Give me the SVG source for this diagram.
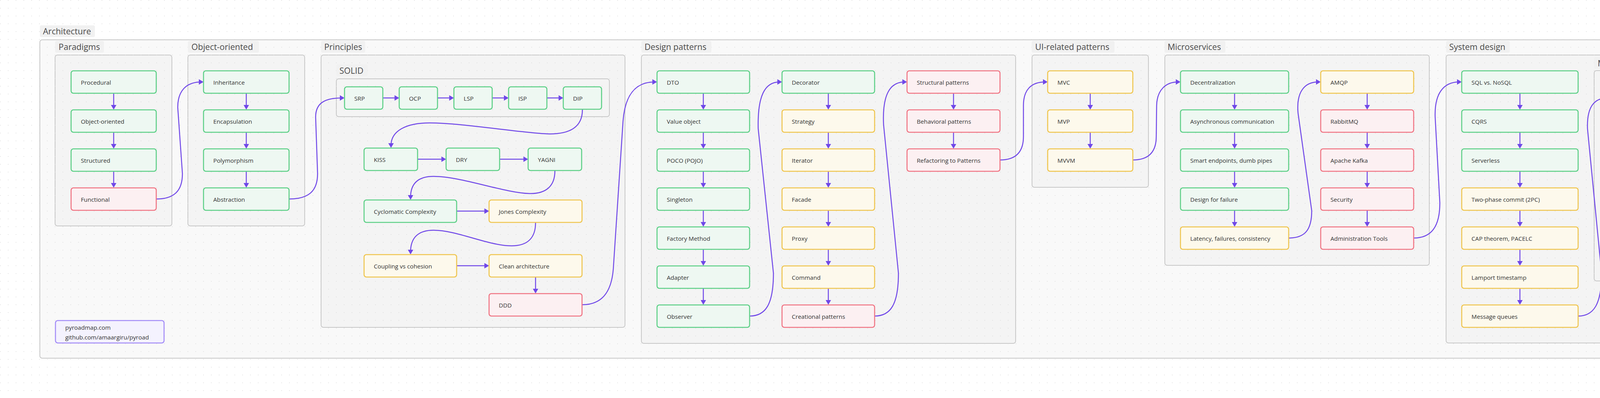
<svg xmlns="http://www.w3.org/2000/svg" width="4900" height="1020" viewBox="0 0 4900 1020">
<defs>
<pattern id="dots" width="20" height="20" patternUnits="userSpaceOnUse">
<circle cx="1" cy="1" r="0.9" fill="#dadada"/>
</pattern>
<marker id="ah" markerUnits="userSpaceOnUse" markerWidth="12" markerHeight="14" viewBox="0 0 12 14" refX="6" refY="7" orient="auto">
<path d="M0,0 L12,7 L0,14 z" fill="#7048e8"/>
</marker>
<style>
.box{fill:#f4f4f4;stroke:#c8c8c8;stroke-width:2}
.outer{fill:#f9f9f9;stroke:#c8c8c8;stroke-width:2}
.lbg{fill:#f1f1f1}
.title{font-family:"Open Sans","Noto Sans","DejaVu Sans",sans-serif;font-size:21.5px;fill:#4a4a4a}
.n rect{stroke-width:2.6}
.n text{font-family:"Open Sans","Noto Sans","DejaVu Sans",sans-serif;font-size:15.2px;fill:#333}
.g rect{fill:#eef8f2;stroke:#5ccf86}
.y rect{fill:#fdf9ec;stroke:#efc54f}
.r rect{fill:#fcf0f2;stroke:#f07483}
.p rect{fill:#f4f2fe;stroke:#a38cf7}
#connectors path{fill:none;stroke:#7048e8;stroke-width:2.5;marker-end:url(#ah)}
</style>
</defs>
<rect width="4900" height="1020" fill="#ffffff"/>
<g id="groups">
<rect class="outer" x="102" y="102" width="4698" height="816" rx="6"/>
<rect class="box" x="141" y="141" width="299" height="438" rx="6"/>
<rect class="box" x="481" y="141" width="299" height="438" rx="6"/>
<rect class="box" x="822" y="141" width="778" height="698" rx="6"/>
<rect class="box" x="861" y="202" width="699" height="97" rx="6"/>
<rect class="box" x="1642" y="141" width="958" height="739" rx="6"/>
<rect class="box" x="2642" y="141" width="298" height="339" rx="6"/>
<rect class="box" x="2982" y="141" width="677" height="539" rx="6"/>
<rect class="box" x="3702" y="141" width="1058" height="738" rx="6"/>
<rect class="box" x="4081" y="181" width="299" height="539" rx="6"/>
</g>
<rect width="4900" height="1020" fill="url(#dots)"/>
<g id="labels">
<rect class="lbg" x="102" y="65" width="141" height="30" rx="4"/><text class="title" x="110" y="88">Architecture</text>
<rect class="lbg" x="141" y="105" width="125" height="30" rx="4"/><text class="title" x="150" y="128">Paradigms</text>
<rect class="lbg" x="481" y="105" width="182" height="30" rx="4"/><text class="title" x="490" y="128">Object-oriented</text>
<rect class="lbg" x="822" y="105" width="113" height="30" rx="4"/><text class="title" x="830" y="128">Principles</text>
<rect class="lbg" x="861" y="165" width="80" height="30" rx="4"/><text class="title" x="869" y="189">SOLID</text>
<rect class="lbg" x="1642" y="105" width="179" height="30" rx="4"/><text class="title" x="1650" y="128">Design patterns</text>
<rect class="lbg" x="2641" y="105" width="212" height="30" rx="4"/><text class="title" x="2650" y="128">UI-related patterns</text>
<rect class="lbg" x="2981" y="105" width="156" height="30" rx="4"/><text class="title" x="2989" y="128">Microservices</text>
<rect class="lbg" x="3702" y="105" width="163" height="30" rx="4"/><text class="title" x="3710" y="128">System design</text>
<rect class="lbg" x="4081" y="146" width="229" height="30" rx="4"/><text class="title" x="4090" y="170">Mitigation strategies</text>
</g>
<g id="connectors">
<path d="M291,240 L291,275"/><path d="M291,340 L291,375"/><path d="M291,440 L291,475"/>
<path d="M630.5,240 L630.5,275"/><path d="M630.5,340 L630.5,375"/><path d="M630.5,440 L630.5,475"/>
<path d="M980,251 L1016,251"/><path d="M1120,251 L1156,251"/><path d="M1260,251 L1296,251"/><path d="M1400,251 L1436,251"/>
<path d="M1069,408 L1136,408"/><path d="M1279,408 L1346,408"/>
<path d="M1169,541 L1246,541"/><path d="M1169,681 L1246,681"/>
<path d="M1371,711 L1371,746"/>
<path d="M1800.5,240 L1800.5,275"/><path d="M1800.5,340 L1800.5,375"/><path d="M1800.5,440 L1800.5,475"/><path d="M1800.5,540 L1800.5,575"/><path d="M1800.5,640 L1800.5,675"/><path d="M1800.5,740 L1800.5,775"/>
<path d="M2120.5,240 L2120.5,275"/><path d="M2120.5,340 L2120.5,375"/><path d="M2120.5,440 L2120.5,475"/><path d="M2120.5,540 L2120.5,575"/><path d="M2120.5,640 L2120.5,675"/><path d="M2120.5,740 L2120.5,775"/>
<path d="M2441,240 L2441,275"/><path d="M2441,340 L2441,375"/>
<path d="M2791,240 L2791,275"/><path d="M2791,340 L2791,375"/>
<path d="M3160.5,240 L3160.5,275"/><path d="M3160.5,340 L3160.5,375"/><path d="M3160.5,440 L3160.5,475"/><path d="M3160.5,540 L3160.5,575"/>
<path d="M3500,240 L3500,275"/><path d="M3500,340 L3500,375"/><path d="M3500,440 L3500,475"/><path d="M3500,540 L3500,575"/>
<path d="M3891,240 L3891,275"/><path d="M3891,340 L3891,375"/><path d="M3891,440 L3891,475"/><path d="M3891,540 L3891,575"/><path d="M3891,640 L3891,675"/><path d="M3891,740 L3891,775"/>
<path d="M4230.5,280 L4230.5,315"/><path d="M4230.5,380 L4230.5,415"/><path d="M4230.5,480 L4230.5,515"/><path d="M4230.5,580 L4230.5,615"/>
<path d="M4571,240 L4571,275"/><path d="M4571,340 L4571,375"/><path d="M4571,440 L4571,475"/><path d="M4571,540 L4571,575"/><path d="M4571,640 L4571,675"/>
<path d="M400,510 C445,510 467,490 467,445 L455,275 C455,235 475,210 515,210"/>
<path d="M740,510 C790,510 813,490 813,445 L808,300 C808,265 830,251 876,251"/>
<path d="M1490,781 C1540,781 1565,750 1570,690 L1595,310 C1600,245 1625,210 1676,210"/>
<path d="M1919,810 C1960,810 1980,780 1980,700 L1941,330 C1939,245 1958,210 1996,210"/>
<path d="M2239,810 C2280,810 2300,780 2300,700 L2262,320 C2258,240 2280,210 2316,210"/>
<path d="M2560,410 C2600,410 2620,390 2620,350 L2620,270 C2620,230 2640,210 2676,210"/>
<path d="M2900,410 C2940,410 2960,390 2960,350 L2961,270 C2962,230 2985,210 3016,210"/>
<path d="M3299,610 C3340,610 3358,590 3358,540 L3323,290 C3318,235 3340,210 3375,210"/>
<path d="M3619,610 C3665,610 3686,580 3686,520 L3674,300 C3672,240 3695,210 3736,210"/>
<path d="M4040,810 C4080,810 4100,780 4100,700 L4064,330 C4062,275 4080,251 4116,251"/>
<path d="M4339,650 C4380,650 4399,625 4399,560 L4363,300 C4360,240 4380,210 4416,210"/>
<path d="M1491,281 C1491,325 1460,345 1400,343 C1330,340 1180,315 1100,315 C1040,315 1001,335 1001,373"/>
<path d="M1420.5,438 C1420.5,475 1400,497 1355,496 C1290,494 1180,452 1110,452 C1070,452 1051,470 1051,506"/>
<path d="M1371,571 C1371,610 1350,630 1310,630 C1250,630 1170,590 1110,590 C1070,590 1051,610 1051,646"/>
</g>
<g id="n-procedural" class="n g"><rect x="182" y="181.5" width="218" height="57.5" rx="6"/><text x="207" y="217">Procedural</text></g>
<g id="n-object-oriented" class="n g"><rect x="182" y="281.5" width="218" height="57.5" rx="6"/><text x="207" y="317">Object-oriented</text></g>
<g id="n-structured" class="n g"><rect x="182" y="381.5" width="218" height="57.5" rx="6"/><text x="207" y="417">Structured</text></g>
<g id="n-functional" class="n r"><rect x="182" y="481.5" width="218" height="57.5" rx="6"/><text x="207" y="517">Functional</text></g>
<g id="n-inheritance" class="n g"><rect x="521" y="181.5" width="219" height="57.5" rx="6"/><text x="546" y="217">Inheritance</text></g>
<g id="n-encapsulation" class="n g"><rect x="521" y="281.5" width="219" height="57.5" rx="6"/><text x="546" y="317">Encapsulation</text></g>
<g id="n-polymorphism" class="n g"><rect x="521" y="381.5" width="219" height="57.5" rx="6"/><text x="546" y="417">Polymorphism</text></g>
<g id="n-abstraction" class="n g"><rect x="521" y="481.5" width="219" height="57.5" rx="6"/><text x="546" y="517">Abstraction</text></g>
<g id="n-srp" class="n g"><rect x="882" y="222.5" width="98" height="57.5" rx="6"/><text x="907" y="258">SRP</text></g>
<g id="n-ocp" class="n g"><rect x="1022" y="222.5" width="98" height="57.5" rx="6"/><text x="1047" y="258">OCP</text></g>
<g id="n-lsp" class="n g"><rect x="1162" y="222.5" width="98" height="57.5" rx="6"/><text x="1187" y="258">LSP</text></g>
<g id="n-isp" class="n g"><rect x="1302" y="222.5" width="98" height="57.5" rx="6"/><text x="1327" y="258">ISP</text></g>
<g id="n-dip" class="n g"><rect x="1442" y="222.5" width="98" height="57.5" rx="6"/><text x="1467" y="258">DIP</text></g>
<g id="n-kiss" class="n g"><rect x="932" y="379.5" width="137" height="57.5" rx="6"/><text x="957" y="415">KISS</text></g>
<g id="n-dry" class="n g"><rect x="1142" y="379.5" width="137" height="57.5" rx="6"/><text x="1167" y="415">DRY</text></g>
<g id="n-yagni" class="n g"><rect x="1352" y="379.5" width="137" height="57.5" rx="6"/><text x="1377" y="415">YAGNI</text></g>
<g id="n-cyclomatic" class="n g"><rect x="932" y="512.5" width="237" height="57.5" rx="6"/><text x="957" y="548">Cyclomatic Complexity</text></g>
<g id="n-jones" class="n y"><rect x="1252" y="512.5" width="238" height="57.5" rx="6"/><text x="1277" y="548">Jones Complexity</text></g>
<g id="n-coupling" class="n y"><rect x="932" y="652.5" width="237" height="57.5" rx="6"/><text x="957" y="688">Coupling vs cohesion</text></g>
<g id="n-clean" class="n y"><rect x="1252" y="652.5" width="238" height="57.5" rx="6"/><text x="1277" y="688">Clean architecture</text></g>
<g id="n-ddd" class="n r"><rect x="1252" y="752.5" width="238" height="57.5" rx="6"/><text x="1277" y="788">DDD</text></g>
<g id="n-dto" class="n g"><rect x="1682" y="181.5" width="237" height="57.5" rx="6"/><text x="1707" y="217">DTO</text></g>
<g id="n-value-object" class="n g"><rect x="1682" y="281.5" width="237" height="57.5" rx="6"/><text x="1707" y="317">Value object</text></g>
<g id="n-poco" class="n g"><rect x="1682" y="381.5" width="237" height="57.5" rx="6"/><text x="1707" y="417">POCO (POJO)</text></g>
<g id="n-singleton" class="n g"><rect x="1682" y="481.5" width="237" height="57.5" rx="6"/><text x="1707" y="517">Singleton</text></g>
<g id="n-factory" class="n g"><rect x="1682" y="581.5" width="237" height="57.5" rx="6"/><text x="1707" y="617">Factory Method</text></g>
<g id="n-adapter" class="n g"><rect x="1682" y="681.5" width="237" height="57.5" rx="6"/><text x="1707" y="717">Adapter</text></g>
<g id="n-observer" class="n g"><rect x="1682" y="781.5" width="237" height="57.5" rx="6"/><text x="1707" y="817">Observer</text></g>
<g id="n-decorator" class="n g"><rect x="2002" y="181.5" width="237" height="57.5" rx="6"/><text x="2027" y="217">Decorator</text></g>
<g id="n-strategy" class="n y"><rect x="2002" y="281.5" width="237" height="57.5" rx="6"/><text x="2027" y="317">Strategy</text></g>
<g id="n-iterator" class="n y"><rect x="2002" y="381.5" width="237" height="57.5" rx="6"/><text x="2027" y="417">Iterator</text></g>
<g id="n-facade" class="n y"><rect x="2002" y="481.5" width="237" height="57.5" rx="6"/><text x="2027" y="517">Facade</text></g>
<g id="n-proxy" class="n y"><rect x="2002" y="581.5" width="237" height="57.5" rx="6"/><text x="2027" y="617">Proxy</text></g>
<g id="n-command" class="n y"><rect x="2002" y="681.5" width="237" height="57.5" rx="6"/><text x="2027" y="717">Command</text></g>
<g id="n-creational" class="n r"><rect x="2002" y="781.5" width="237" height="57.5" rx="6"/><text x="2027" y="817">Creational patterns</text></g>
<g id="n-structural" class="n r"><rect x="2322" y="181.5" width="238" height="57.5" rx="6"/><text x="2347" y="217">Structural patterns</text></g>
<g id="n-behavioral" class="n r"><rect x="2322" y="281.5" width="238" height="57.5" rx="6"/><text x="2347" y="317">Behavioral patterns</text></g>
<g id="n-refactoring" class="n r"><rect x="2322" y="381.5" width="238" height="57.5" rx="6"/><text x="2347" y="417">Refactoring to Patterns</text></g>
<g id="n-mvc" class="n y"><rect x="2682" y="181.5" width="218" height="57.5" rx="6"/><text x="2707" y="217">MVC</text></g>
<g id="n-mvp" class="n y"><rect x="2682" y="281.5" width="218" height="57.5" rx="6"/><text x="2707" y="317">MVP</text></g>
<g id="n-mvvm" class="n y"><rect x="2682" y="381.5" width="218" height="57.5" rx="6"/><text x="2707" y="417">MVVM</text></g>
<g id="n-decentralization" class="n g"><rect x="3022" y="181.5" width="277" height="57.5" rx="6"/><text x="3047" y="217">Decentralization</text></g>
<g id="n-async" class="n g"><rect x="3022" y="281.5" width="277" height="57.5" rx="6"/><text x="3047" y="317">Asynchronous communication</text></g>
<g id="n-smart" class="n g"><rect x="3022" y="381.5" width="277" height="57.5" rx="6"/><text x="3047" y="417">Smart endpoints, dumb pipes</text></g>
<g id="n-design-failure" class="n g"><rect x="3022" y="481.5" width="277" height="57.5" rx="6"/><text x="3047" y="517">Design for failure</text></g>
<g id="n-latency" class="n y"><rect x="3022" y="581.5" width="277" height="57.5" rx="6"/><text x="3047" y="617">Latency, failures, consistency</text></g>
<g id="n-amqp" class="n y"><rect x="3381" y="181.5" width="238" height="57.5" rx="6"/><text x="3406" y="217">AMQP</text></g>
<g id="n-rabbitmq" class="n r"><rect x="3381" y="281.5" width="238" height="57.5" rx="6"/><text x="3406" y="317">RabbitMQ</text></g>
<g id="n-kafka" class="n r"><rect x="3381" y="381.5" width="238" height="57.5" rx="6"/><text x="3406" y="417">Apache Kafka</text></g>
<g id="n-security" class="n r"><rect x="3381" y="481.5" width="238" height="57.5" rx="6"/><text x="3406" y="517">Security</text></g>
<g id="n-admin" class="n r"><rect x="3381" y="581.5" width="238" height="57.5" rx="6"/><text x="3406" y="617">Administration Tools</text></g>
<g id="n-sql" class="n g"><rect x="3742" y="181.5" width="298" height="57.5" rx="6"/><text x="3767" y="217">SQL vs. NoSQL</text></g>
<g id="n-cqrs" class="n g"><rect x="3742" y="281.5" width="298" height="57.5" rx="6"/><text x="3767" y="317">CQRS</text></g>
<g id="n-serverless" class="n g"><rect x="3742" y="381.5" width="298" height="57.5" rx="6"/><text x="3767" y="417">Serverless</text></g>
<g id="n-2pc" class="n y"><rect x="3742" y="481.5" width="298" height="57.5" rx="6"/><text x="3767" y="517">Two-phase commit (2PC)</text></g>
<g id="n-cap" class="n y"><rect x="3742" y="581.5" width="298" height="57.5" rx="6"/><text x="3767" y="617">CAP theorem, PACELC</text></g>
<g id="n-lamport" class="n y"><rect x="3742" y="681.5" width="298" height="57.5" rx="6"/><text x="3767" y="717">Lamport timestamp</text></g>
<g id="n-mq" class="n y"><rect x="3742" y="781.5" width="298" height="57.5" rx="6"/><text x="3767" y="817">Message queues</text></g>
<g id="n-load-shifting" class="n y"><rect x="4122" y="221.5" width="217" height="57.5" rx="6"/><text x="4147" y="257">Load shifting</text></g>
<g id="n-backpressure" class="n y"><rect x="4122" y="321.5" width="217" height="57.5" rx="6"/><text x="4147" y="357">Backpressure</text></g>
<g id="n-rate-limiting" class="n r"><rect x="4122" y="421.5" width="217" height="57.5" rx="6"/><text x="4147" y="457">Rate limiting</text></g>
<g id="n-graceful" class="n r"><rect x="4122" y="521.5" width="217" height="57.5" rx="6"/><text x="4147" y="557">Graceful degradation</text></g>
<g id="n-circuit" class="n r"><rect x="4122" y="621.5" width="217" height="57.5" rx="6"/><text x="4147" y="657">Circuit Breaker</text></g>
<g id="n-saga" class="n r"><rect x="4422" y="181.5" width="298" height="57.5" rx="6"/><text x="4447" y="217">Saga pattern</text></g>
<g id="n-api-gateway" class="n r"><rect x="4422" y="281.5" width="298" height="57.5" rx="6"/><text x="4447" y="317">API gateway</text></g>
<g id="n-load-balancing" class="n r"><rect x="4422" y="381.5" width="298" height="57.5" rx="6"/><text x="4447" y="417">Load balancing</text></g>
<g id="n-consistent-hashing" class="n r"><rect x="4422" y="481.5" width="298" height="57.5" rx="6"/><text x="4447" y="517">Consistent hashing</text></g>
<g id="n-sharding" class="n r"><rect x="4422" y="581.5" width="298" height="57.5" rx="6"/><text x="4447" y="617">Sharding, data partitioning</text></g>
<g id="n-more" class="n r"><rect x="4422" y="681.5" width="298" height="57.5" rx="6"/><text x="4447" y="717">...</text></g>
<g id="n-links" class="n p"><rect x="142" y="821.5" width="278" height="57.5" rx="6"/><text x="167" y="845">pyroadmap.com</text><text x="167" y="870">github.com/amaargiru/pyroad</text></g>
</svg>
